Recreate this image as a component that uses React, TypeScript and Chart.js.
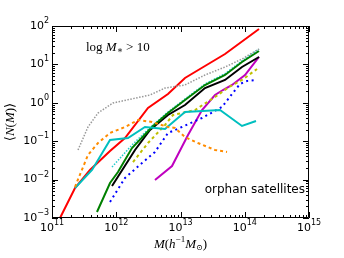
import React, { useEffect, useRef } from "react";
import { Chart, registerables } from "chart.js";
Chart.register(...registerables);

// log10 of halo mass M and log10 of <N(M)>
const redLogM = [11.125, 11.358, 11.591, 11.903, 12.136, 12.494, 12.805, 13.07, 13.381, 13.693, 14.222];
const redLogN = [-3.0, -2.219, -1.75, -1.255, -0.917, -0.135, 0.229, 0.646, 0.958, 1.271, 1.922];

const grayLogM = [11.405, 11.56, 11.716, 11.949, 12.525, 12.759, 13.07, 13.381, 13.693, 13.957, 14.222];
const grayLogN = [-1.229, -0.63, -0.266, -0.005, 0.203, 0.385, 0.464, 0.724, 0.932, 1.141, 1.4];

const orangeLogM = [11.358, 11.389, 11.56, 11.716, 11.903, 12.136, 12.339, 12.556, 12.805, 12.914, 13.07, 13.272, 13.537, 13.724];
const orangeLogN = [-2.193, -2.06, -1.359, -1.047, -0.786, -0.63, -0.448, -0.5, -0.63, -0.656, -0.891, -1.047, -1.229, -1.281];

const cyanLogM = [11.358, 11.623, 11.903, 12.183, 12.447, 12.759, 12.868, 13.07, 13.615, 13.957, 14.175];
const cyanLogN = [-2.219, -1.75, -0.969, -0.917, -0.63, -0.682, -0.526, -0.24, -0.1875, -0.604, -0.474];

const greenLogM = [11.7, 11.903, 12.027, 12.245, 12.556, 12.805, 13.07, 13.381, 13.693, 13.957, 14.222];
const greenLogN = [-2.844, -2.089, -1.802, -1.177, -0.63, -0.266, 0.073, 0.464, 0.724, 1.0625, 1.349];

const blackLogM = [11.934, 12.292, 12.525, 12.805, 13.07, 13.381, 13.693, 13.957, 14.222];
const blackLogN = [-2.167, -1.229, -0.708, -0.318, -0.057, 0.385, 0.594, 0.932, 1.193];

const cyanDotLogM = [11.934, 12.245, 12.556, 12.805, 13.07, 13.381, 13.693, 13.957, 14.222];
const cyanDotLogN = [-1.672, -1.099, -0.6, -0.24, 0.1, 0.49, 0.76, 1.09, 1.4];

const yellowLogM = [12.261, 12.494, 12.759, 12.883, 13.226, 13.537, 13.755, 13.957, 14.191];
const yellowLogN = [-1.542, -1.047, -0.578, -0.318, -0.1875, 0.151, 0.411, 0.594, 0.88];

const blueLogM = [11.903, 12.136, 12.401, 12.603, 12.805, 13.023, 13.335, 13.646, 13.802, 13.926, 14.035, 14.191];
const blueLogN = [-2.583, -1.958, -1.568, -1.281, -0.786, -0.63, -0.396, -0.109, 0.229, 0.49, 0.568, 0.594];

const magentaLogM = [12.603, 12.868, 13.117, 13.335, 13.537, 13.661, 13.802, 14.004, 14.222];
const magentaLogN = [-2.01, -1.646, -0.839, -0.1875, 0.203, 0.333, 0.464, 0.724, 1.193];

const xTickExps = [11, 12, 13, 14, 15];
const yTickExps = [-3, -2, -1, 0, 1, 2];
const annotation = "orphan satellites";

const pts = (lm: number[], ln: number[]) => lm.map((m, i) => ({ x: Math.pow(10, m), y: Math.pow(10, ln[i]) }));

const SERIF = "'Liberation Serif', 'DejaVu Serif', serif";
const SANS = "'DejaVu Sans', sans-serif";

type Run = { t: string; font: string; dy?: number };

function drawRuns(ctx: CanvasRenderingContext2D, runs: Run[], x: number, y: number, align: "left" | "center" | "right") {
  let total = 0;
  const widths = runs.map((r) => {
    ctx.font = r.font;
    const w = ctx.measureText(r.t).width;
    total += w;
    return w;
  });
  let cx = align === "left" ? x : align === "center" ? x - total / 2 : x - total;
  ctx.textAlign = "left";
  ctx.textBaseline = "middle";
  runs.forEach((r, i) => {
    ctx.font = r.font;
    ctx.fillText(r.t, cx, y + (r.dy || 0));
    cx += widths[i];
  });
}

const fmtExp = (e: number) => (e < 0 ? "\u2212" + Math.abs(e) : String(e));

const decor = {
  id: "decor",
  afterDraw(chart: any) {
    const ctx: CanvasRenderingContext2D = chart.ctx;
    const xs = chart.scales.x;
    const ys = chart.scales.y;
    const { left, right, top, bottom } = chart.chartArea;
    ctx.save();
    ctx.strokeStyle = "#000";
    ctx.fillStyle = "#000";
    ctx.lineWidth = 1;
    ctx.beginPath();
    ctx.rect(left + 0.5, top + 0.5, right - left - 1, bottom - top - 1);
    ctx.stroke();

    ctx.beginPath();
    for (let i = 0; i < xTickExps.length; i++) {
      const e = xTickExps[i];
      const px = Math.round(xs.getPixelForValue(Math.pow(10, e))) + 0.5;
      ctx.moveTo(px, bottom); ctx.lineTo(px, bottom - 6);
      ctx.moveTo(px, top); ctx.lineTo(px, top + 6);
      if (i < xTickExps.length - 1) {
        for (let m = 2; m <= 9; m++) {
          const p = Math.round(xs.getPixelForValue(m * Math.pow(10, e))) + 0.5;
          ctx.moveTo(p, bottom); ctx.lineTo(p, bottom - 3);
          ctx.moveTo(p, top); ctx.lineTo(p, top + 3);
        }
      }
    }
    for (let i = 0; i < yTickExps.length; i++) {
      const e = yTickExps[i];
      const py = Math.round(ys.getPixelForValue(Math.pow(10, e))) + 0.5;
      ctx.moveTo(left, py); ctx.lineTo(left + 6, py);
      ctx.moveTo(right, py); ctx.lineTo(right - 6, py);
      if (i < yTickExps.length - 1) {
        for (let m = 2; m <= 9; m++) {
          const p = Math.round(ys.getPixelForValue(m * Math.pow(10, e))) + 0.5;
          ctx.moveTo(left, p); ctx.lineTo(left + 3, p);
          ctx.moveTo(right, p); ctx.lineTo(right - 3, p);
        }
      }
    }
    ctx.stroke();

    const baseFont = "11px " + SANS;
    const expFont = "8px " + SANS;
    xTickExps.forEach((e) => {
      const px = xs.getPixelForValue(Math.pow(10, e));
      drawRuns(ctx, [{ t: "10", font: baseFont }, { t: fmtExp(e), font: expFont, dy: -5 }], px, bottom + 10, "center");
    });
    yTickExps.forEach((e) => {
      const py = ys.getPixelForValue(Math.pow(10, e));
      drawRuns(ctx, [{ t: "10", font: baseFont }, { t: fmtExp(e), font: expFont, dy: -5 }], left - 3, py, "right");
    });

    const it = "italic 13px " + SERIF;
    const up = "13px " + SERIF;
    drawRuns(ctx, [
      { t: "M", font: it }, { t: "(", font: up }, { t: "h", font: it },
      { t: "\u22121", font: "9px " + SERIF, dy: -5 }, { t: "M", font: it },
      { t: "\u2299", font: "8px " + SERIF, dy: 3 }, { t: ")", font: up },
    ], (left + right) / 2, bottom + 27, "center");

    ctx.save();
    ctx.translate(11, (top + bottom) / 2);
    ctx.rotate(-Math.PI / 2);
    drawRuns(ctx, [
      { t: "\u27E8", font: up }, { t: "N", font: it }, { t: "(", font: up },
      { t: "M", font: it }, { t: ")", font: up }, { t: "\u27E9", font: up },
    ], 0, 0, "center");
    ctx.restore();

    drawRuns(ctx, [
      { t: "log ", font: up }, { t: "M", font: it }, { t: "\u2217", font: "9px " + SERIF, dy: 3 },
      { t: " > 10", font: up },
    ], left + 34, top + 22, "left");

    ctx.font = "12px " + SANS;
    ctx.textAlign = "right";
    ctx.textBaseline = "middle";
    ctx.fillText(annotation, right - 4, bottom - 28);
    ctx.restore();
  },
};

export default function App() {
  const ref = useRef<HTMLCanvasElement | null>(null);
  useEffect(() => {
    if (!ref.current) return;
    const base = { pointRadius: 0, tension: 0, fill: false, borderCapStyle: "butt" as const };
    const chart = new Chart(ref.current, {
      type: "line",
      data: {
        datasets: [
          { ...base, data: pts(grayLogM, grayLogN), borderColor: "#999999", borderWidth: 1.5, borderDash: [1.5, 1.5] },
          { ...base, data: pts(orangeLogM, orangeLogN), borderColor: "#ff8c00", borderWidth: 2, borderDash: [3, 3] },
          { ...base, data: pts(cyanLogM, cyanLogN), borderColor: "#00bfbf", borderWidth: 2 },
          { ...base, data: pts(redLogM, redLogN), borderColor: "#ff0000", borderWidth: 2 },
          { ...base, data: pts(greenLogM, greenLogN), borderColor: "#008000", borderWidth: 2 },
          { ...base, data: pts(blackLogM, blackLogN), borderColor: "#000000", borderWidth: 2 },
          { ...base, data: pts(cyanDotLogM, cyanDotLogN), borderColor: "#22cccc", borderWidth: 1.5, borderDash: [1.5, 1.5] },
          { ...base, data: pts(yellowLogM, yellowLogN), borderColor: "#bfbf00", borderWidth: 2, borderDash: [3, 3] },
          { ...base, data: pts(blueLogM, blueLogN), borderColor: "#0000ff", borderWidth: 2, borderDash: [2, 3.5] },
          { ...base, data: pts(magentaLogM, magentaLogN), borderColor: "#bf00bf", borderWidth: 2 },
        ],
      },
      options: {
        responsive: false,
        animation: false,
        devicePixelRatio: 1,
        layout: { padding: { left: 52, right: 35, top: 26, bottom: 40 } },
        plugins: { legend: { display: false }, tooltip: { enabled: false }, title: { display: false } },
        scales: {
          x: { type: "logarithmic", min: 1e11, max: 1e15, display: false },
          y: { type: "logarithmic", min: 1e-3, max: 1e2, display: false },
        },
      },
      plugins: [decor],
    });
    return () => chart.destroy();
  }, []);
  return (
    <div style={{ position: "fixed", left: 0, top: 0, width: 344, height: 258, background: "#fff" }}>
      <canvas ref={ref} width={344} height={258} style={{ width: 344, height: 258, display: "block" }} />
    </div>
  );
}
